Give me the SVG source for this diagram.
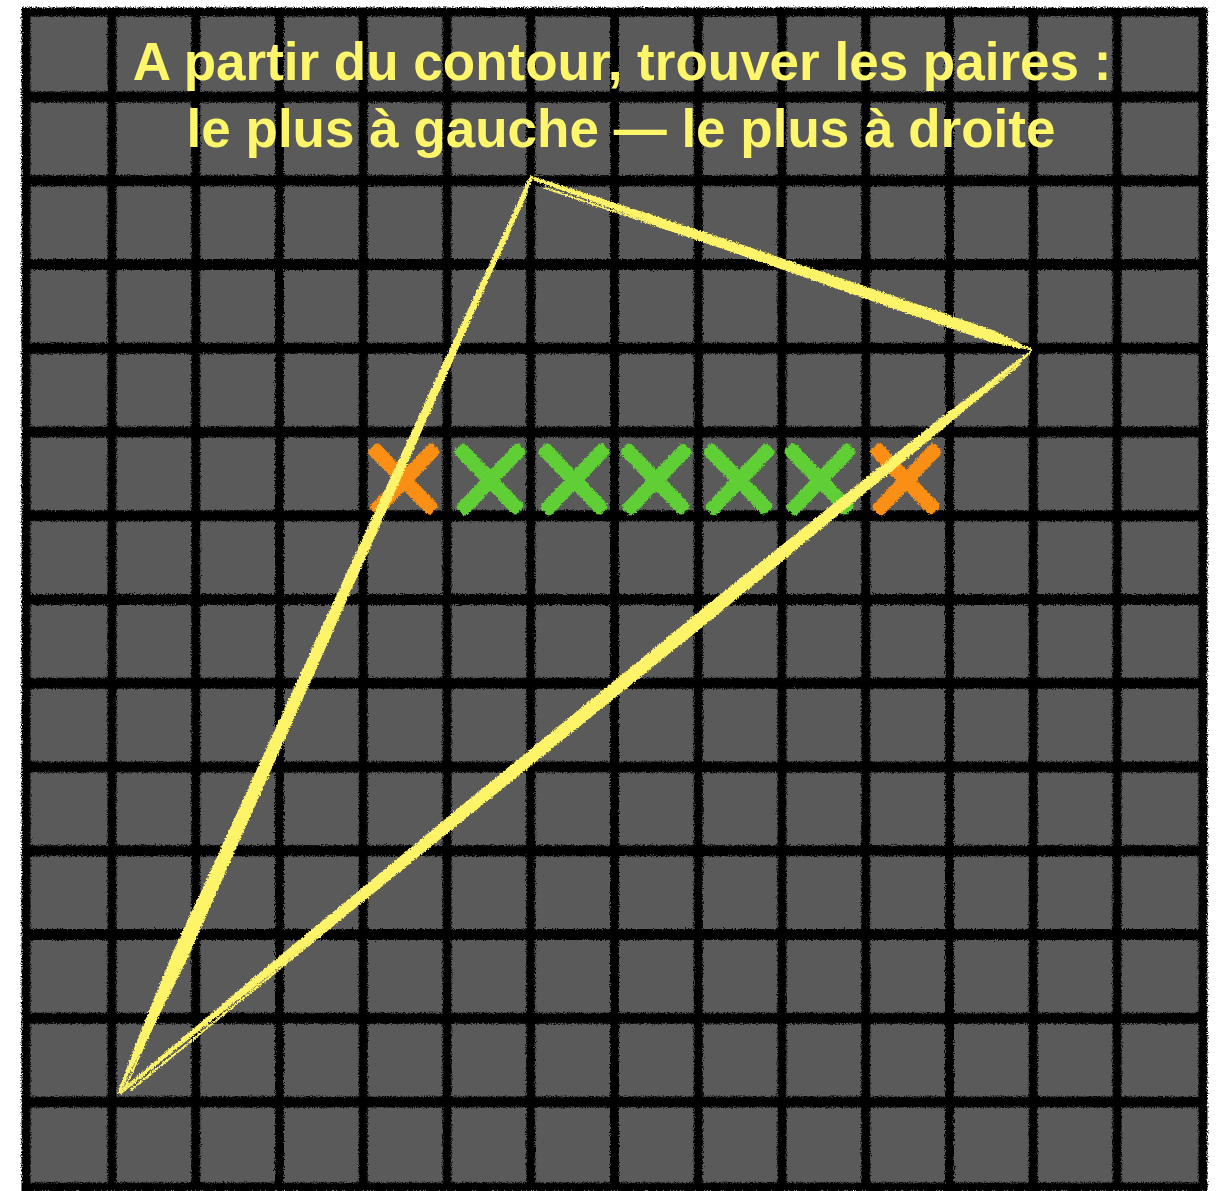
<svg xmlns="http://www.w3.org/2000/svg" xmlns:xlink="http://www.w3.org/1999/xlink" width="1217" height="1191" viewBox="0 0 1217 1191">
  <defs>
    <style>
      .grid line { stroke: #000; stroke-linecap: butt; }
      .h { stroke-width: 11; }
      .v { stroke-width: 9; }
      .tri { stroke: #fdf469; fill: none; stroke-linecap: round; }
      .tri polygon { fill: #fdf469; stroke: none; }
      .title { font-family: "Liberation Sans", Arial, sans-serif; font-weight: bold; font-size: 53px; fill: #fdf66b; text-anchor: middle; }
      .mark line { stroke-width: 9; stroke-linecap: round; }
      .orange { stroke: #fb8f12; }
      .green { stroke: #5ecf36; }
    </style>
    <filter id="rough" x="-5%" y="-5%" width="110%" height="110%">
      <feTurbulence type="fractalNoise" baseFrequency="0.9" numOctaves="2" seed="3" result="n"/>
      <feDisplacementMap in="SourceGraphic" in2="n" scale="5" xChannelSelector="R" yChannelSelector="G"/>
    </filter>
    <filter id="brush" x="-20%" y="-20%" width="140%" height="140%">
      <feTurbulence type="fractalNoise" baseFrequency="0.6" numOctaves="2" seed="7" result="n"/>
      <feDisplacementMap in="SourceGraphic" in2="n" scale="4" xChannelSelector="R" yChannelSelector="G"/>
    </filter>
    <g id="xmark" class="mark">
      <line x1="-27" y1="-30" x2="29" y2="28"/>
      <line x1="-31" y1="-26" x2="25" y2="32" stroke-width="4"/>
      <line x1="-29" y1="29" x2="27" y2="-30"/>
      <line x1="-25" y1="33" x2="31" y2="-26" stroke-width="4"/>
    </g>
  </defs>

  <rect width="1217" height="1191" fill="#ffffff"/>

  <g id="grid" class="grid" filter="url(#rough)">
    <rect x="26" y="12" width="1177" height="1175" fill="#5a5a5a" stroke="#000" stroke-width="9"/>
    <line class="h" x1="26" y1="97" x2="1203" y2="97"/>
    <line class="h" x1="26" y1="180.75" x2="1203" y2="180.75"/>
    <line class="h" x1="26" y1="264.5" x2="1203" y2="264.5"/>
    <line class="h" x1="26" y1="348.25" x2="1203" y2="348.25"/>
    <line class="h" x1="26" y1="432" x2="1203" y2="432"/>
    <line class="h" x1="26" y1="515.75" x2="1203" y2="515.75"/>
    <line class="h" x1="26" y1="599.5" x2="1203" y2="599.5"/>
    <line class="h" x1="26" y1="683.25" x2="1203" y2="683.25"/>
    <line class="h" x1="26" y1="767" x2="1203" y2="767"/>
    <line class="h" x1="26" y1="850.75" x2="1203" y2="850.75"/>
    <line class="h" x1="26" y1="934.5" x2="1203" y2="934.5"/>
    <line class="h" x1="26" y1="1018.25" x2="1203" y2="1018.25"/>
    <line class="h" x1="26" y1="1102" x2="1203" y2="1102"/>
    <line class="v" x1="112" y1="12" x2="112" y2="1187"/>
    <line class="v" x1="195.75" y1="12" x2="195.75" y2="1187"/>
    <line class="v" x1="279.5" y1="12" x2="279.5" y2="1187"/>
    <line class="v" x1="363.25" y1="12" x2="363.25" y2="1187"/>
    <line class="v" x1="447" y1="12" x2="447" y2="1187"/>
    <line class="v" x1="530.75" y1="12" x2="530.75" y2="1187"/>
    <line class="v" x1="614.5" y1="12" x2="614.5" y2="1187"/>
    <line class="v" x1="698.25" y1="12" x2="698.25" y2="1187"/>
    <line class="v" x1="782" y1="12" x2="782" y2="1187"/>
    <line class="v" x1="865.75" y1="12" x2="865.75" y2="1187"/>
    <line class="v" x1="949.5" y1="12" x2="949.5" y2="1187"/>
    <line class="v" x1="1033.25" y1="12" x2="1033.25" y2="1187"/>
    <line class="v" x1="1117" y1="12" x2="1117" y2="1187"/>
  </g>

  <g id="title">
    <text class="title" x="622" y="80">A partir du contour, trouver les paires :</text>
    <text class="title" x="621" y="147">le plus à gauche — le plus à droite</text>
  </g>

  <g id="marks" filter="url(#brush)">
    <use id="mark-left" xlink:href="#xmark" href="#xmark" x="404" y="478" class="orange"/>
    <use id="mark-1" xlink:href="#xmark" href="#xmark" x="490" y="478" class="green"/>
    <use id="mark-2" xlink:href="#xmark" href="#xmark" x="574" y="478" class="green"/>
    <use id="mark-3" xlink:href="#xmark" href="#xmark" x="656" y="478" class="green"/>
    <use id="mark-4" xlink:href="#xmark" href="#xmark" x="739" y="478" class="green"/>
    <use id="mark-5" xlink:href="#xmark" href="#xmark" x="820" y="478" class="green"/>
    <use id="mark-right" xlink:href="#xmark" href="#xmark" x="906" y="478" class="orange"/>
  </g>

  <g id="triangle" class="tri" filter="url(#brush)">
    <!-- top to right -->
    <polygon points="532.5,179.4 681.2,233.9 880.3,304.1 990.1,341.9 1031.8,350.5 1032.2,349.5 994.1,330.5 884.3,292.7 684.2,225.3 533.5,176.6"/>
    <line x1="536" y1="180" x2="1030" y2="349" stroke-width="2"/>
    <line x1="545" y1="188" x2="1020" y2="348" stroke-width="2"/>
    <!-- top to bottom-left -->
    <polygon points="533.4,176.6 452.8,361 330.5,637 227.9,866.7 187.4,958.8 142.3,1048.8 118.5,1093.2 117.5,1092.8 135.1,1045.6 172.8,952.2 215.1,860.9 319.5,632 445.6,357.8 530.6,175.4"/>
    <line x1="529" y1="180" x2="120" y2="1092" stroke-width="2"/>
    <line x1="527" y1="192" x2="125" y2="1088" stroke-width="2"/>
    <!-- right to bottom-left -->
    <polygon points="1032.3,350.4 943.8,428.2 716.5,615.4 487.7,800.8 257.6,984.7 118.3,1093.4 117.7,1092.6 252.6,978.5 479.5,790.8 707.7,604.6 937.4,420.4 1031.7,349.6"/>
    <line x1="1030" y1="353" x2="121" y2="1093" stroke-width="2"/>
    <line x1="1020" y1="364" x2="131" y2="1090" stroke-width="2"/>
  </g>
</svg>
